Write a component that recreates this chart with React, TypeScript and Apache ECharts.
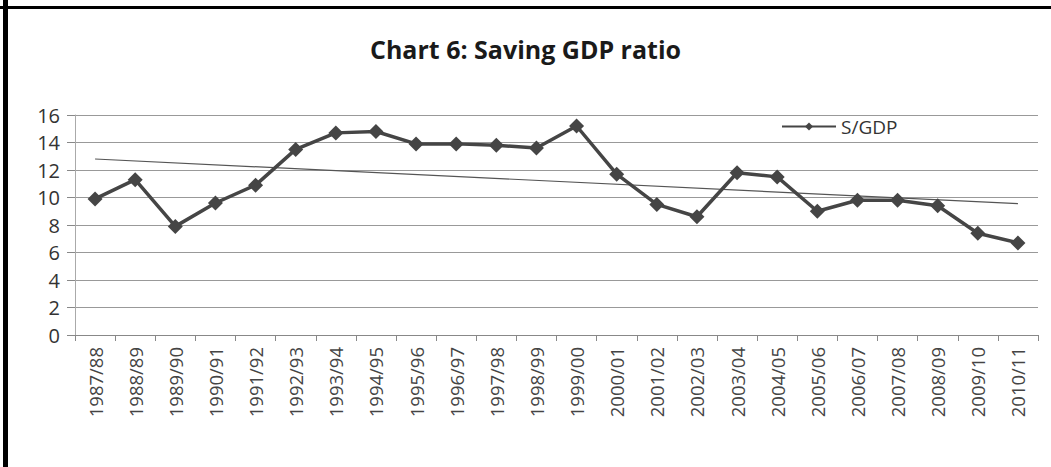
import React, { useEffect, useRef } from "react";
import * as echarts from "echarts";

const categories = [
  "1987/88", "1988/89", "1989/90", "1990/91", "1991/92", "1992/93",
  "1993/94", "1994/95", "1995/96", "1996/97", "1997/98", "1998/99",
  "1999/00", "2000/01", "2001/02", "2002/03", "2003/04", "2004/05",
  "2005/06", "2006/07", "2007/08", "2008/09", "2009/10", "2010/11",
];
const sGdp = [
  9.9, 11.3, 7.9, 9.6, 10.9, 13.5, 14.7, 14.8, 13.9, 13.9, 13.8, 13.6,
  15.2, 11.7, 9.5, 8.6, 11.8, 11.5, 9.0, 9.8, 9.8, 9.4, 7.4, 6.7,
];
// trend line end values (first and last category)
const trendEnds = [12.8, 9.55];
const yTicks = [0, 2, 4, 6, 8, 10, 12, 14, 16];

export default function App() {
  const ref = useRef<HTMLDivElement>(null);
  useEffect(() => {
    const chart = echarts.init(ref.current!, null, { renderer: "svg" });
    chart.setOption({
      animation: false,
      backgroundColor: "#ffffff",
      title: {
        text: "Chart 6: Saving GDP ratio",
        left: "center",
        top: 31,
        textStyle: {
          fontFamily: "Open Sans",
          fontWeight: "bold",
          fontSize: 25,
          color: "#1a1a1a",
        },
      },
      legend: {
        data: ["S/GDP"],
        left: 776,
        top: 112,
        itemWidth: 54,
        itemHeight: 10,
        itemGap: 4,
        textStyle: { fontFamily: "Open Sans", fontSize: 19, color: "#333" },
      },
      grid: { left: 75, right: 13, top: 115, bottom: 132, containLabel: false },
      xAxis: {
        type: "category",
        data: categories,
        boundaryGap: true,
        axisLine: { lineStyle: { color: "#888", width: 1 } },
        axisTick: { show: true, length: 6, lineStyle: { color: "#888" } },
        axisLabel: {
          rotate: 90,
          interval: 0,
          margin: 12,
          fontFamily: "Open Sans",
          fontSize: 18.5,
          color: "#444",
        },
      },
      yAxis: {
        type: "value",
        min: yTicks[0],
        max: yTicks[yTicks.length - 1],
        interval: 2,
        axisLine: { show: true, lineStyle: { color: "#aaa" } },
        axisTick: { show: true, length: 8, lineStyle: { color: "#888" } },
        axisLabel: {
          margin: 15,
          fontFamily: "Open Sans",
          fontSize: 20,
          color: "#333",
        },
        splitLine: { lineStyle: { color: "#999", width: 1 } },
      },
      series: [
        {
          name: "Trend",
          type: "line",
          data: [
            [categories[0], trendEnds[0]],
            [categories[categories.length - 1], trendEnds[1]],
          ],
          symbol: "none",
          lineStyle: { color: "#555", width: 1.2 },
          z: 1,
        },
        {
          name: "S/GDP",
          type: "line",
          data: sGdp,
          symbol: "diamond",
          symbolSize: 15,
          itemStyle: { color: "#454545" },
          lineStyle: { color: "#454545", width: 3.5 },
          z: 3,
        },
      ],
      graphic: [
        { type: "rect", left: 3, top: 0, shape: { width: 5, height: 467 }, style: { fill: "#000" } },
        { type: "rect", left: 0, top: 6, shape: { width: 1051, height: 3 }, style: { fill: "#000" } },
      ],
    });
    return () => chart.dispose();
  }, []);
  return <div ref={ref} style={{ width: 1051, height: 467, position: "absolute", left: 0, top: 0 }} />;
}
